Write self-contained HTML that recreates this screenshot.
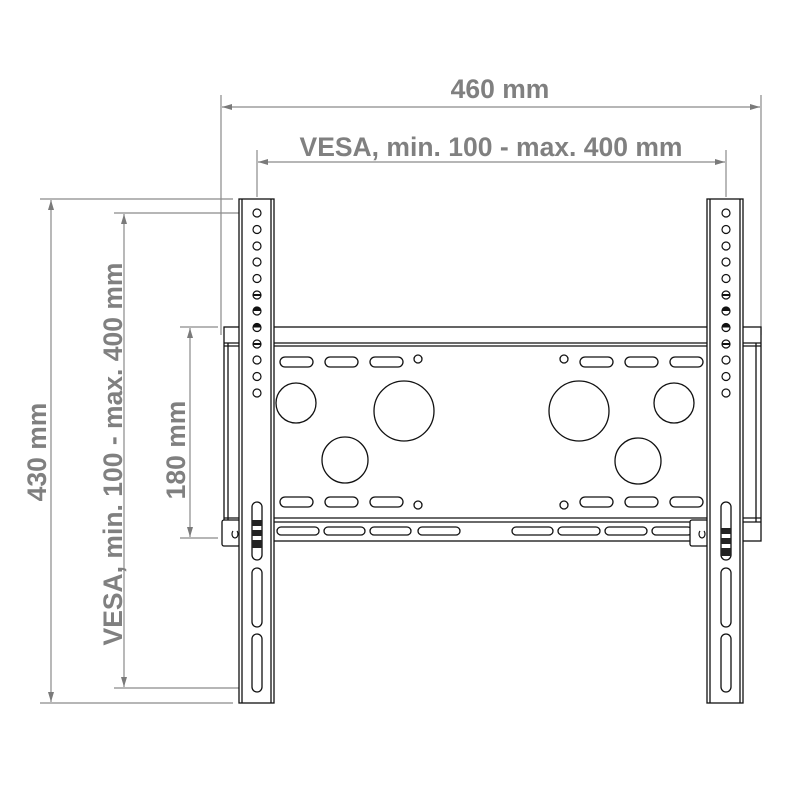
<!DOCTYPE html>
<html><head><meta charset="utf-8"><style>html,body{margin:0;padding:0;background:#fff}svg{display:block}</style></head>
<body>
<svg width="800" height="800" viewBox="0 0 800 800" xmlns="http://www.w3.org/2000/svg">
<defs>
<marker id="a" viewBox="0 0 10 6" refX="10" refY="3" markerWidth="10" markerHeight="6" markerUnits="userSpaceOnUse" orient="auto-start-reverse"><path d="M0,0 L10,3 L0,6 Z" fill="#7a7a7a"/></marker>
</defs>
<g stroke="#8a8a8a" stroke-width="1.2" fill="none">
<line x1="221" y1="95" x2="221" y2="335"/>
<line x1="761" y1="95" x2="761" y2="335"/>
<line x1="257" y1="150" x2="257" y2="197"/>
<line x1="726" y1="150" x2="726" y2="197"/>
<line x1="40" y1="199" x2="233" y2="199"/>
<line x1="114" y1="213" x2="240" y2="213"/>
<line x1="180" y1="327" x2="218" y2="327"/>
<line x1="180" y1="538" x2="218" y2="538"/>
<line x1="114" y1="688" x2="240" y2="688"/>
<line x1="40" y1="703" x2="233" y2="703"/>
<line x1="222" y1="107" x2="760" y2="107" marker-start="url(#a)" marker-end="url(#a)"/>
<line x1="258" y1="162" x2="725" y2="162" marker-start="url(#a)" marker-end="url(#a)"/>
<line x1="51" y1="200" x2="51" y2="702" marker-start="url(#a)" marker-end="url(#a)"/>
<line x1="124" y1="214" x2="124" y2="687" marker-start="url(#a)" marker-end="url(#a)"/>
<line x1="190" y1="328" x2="190" y2="537" marker-start="url(#a)" marker-end="url(#a)"/>
</g>
<g font-family="Liberation Sans, sans-serif" font-weight="bold" font-size="26.5" fill="#808080" text-anchor="middle">
<text x="500" y="98">460 mm</text>
<text x="491" y="156">VESA, min. 100 - max. 400 mm</text>
<text transform="translate(46,452) rotate(-90)">430 mm</text>
<text transform="translate(122,454) rotate(-90)">VESA, min. 100 - max. 400 mm</text>
<text transform="translate(185,450) rotate(-90)">180 mm</text>
</g>
<g stroke="#111" stroke-width="1.3" fill="#fff">
<rect x="224" y="327" width="537" height="214"/>
<line x1="224" y1="343" x2="761" y2="343"/>
<line x1="224" y1="346" x2="761" y2="346"/>
<line x1="224" y1="518" x2="761" y2="518"/>
<line x1="224" y1="522" x2="761" y2="522"/>
<line x1="228" y1="343" x2="228" y2="522"/>
<line x1="756" y1="343" x2="756" y2="522"/>
<circle cx="404" cy="411" r="30"/><circle cx="296" cy="403" r="20"/><circle cx="345" cy="460" r="23"/>
<circle cx="579" cy="411" r="30"/><circle cx="674" cy="403" r="20"/><circle cx="638" cy="461" r="23"/>
<circle cx="418" cy="359" r="4"/><circle cx="418" cy="505" r="4"/><circle cx="564" cy="359" r="4"/><circle cx="564" cy="505" r="4"/>
<rect x="280" y="357" width="33" height="10" rx="5"/><rect x="325" y="357" width="33" height="10" rx="5"/><rect x="370" y="357" width="33" height="10" rx="5"/>
<rect x="580" y="357" width="33" height="10" rx="5"/><rect x="625" y="357" width="33" height="10" rx="5"/><rect x="670" y="357" width="33" height="10" rx="5"/>
<rect x="280" y="497" width="33" height="10" rx="5"/><rect x="325" y="497" width="33" height="10" rx="5"/><rect x="370" y="497" width="33" height="10" rx="5"/>
<rect x="580" y="497" width="33" height="10" rx="5"/><rect x="625" y="497" width="33" height="10" rx="5"/><rect x="670" y="497" width="33" height="10" rx="5"/>
<rect x="277" y="527" width="42" height="8" rx="4"/><rect x="324" y="527" width="41" height="8" rx="4"/><rect x="370" y="527" width="41" height="8" rx="4"/><rect x="418" y="527" width="42" height="8" rx="4"/>
<rect x="512" y="527" width="41" height="8" rx="4"/><rect x="558" y="527" width="42" height="8" rx="4"/><rect x="605" y="527" width="42" height="8" rx="4"/><rect x="652" y="527" width="40" height="8" rx="4"/>
<rect x="222" y="520" width="18" height="26" rx="2"/><rect x="690" y="520" width="18" height="26" rx="2"/>
<rect x="239" y="199" width="35" height="504"/>
<line x1="242" y1="199" x2="242" y2="703"/><line x1="271" y1="199" x2="271" y2="703"/>
<rect x="707" y="199" width="36" height="504"/>
<line x1="710" y1="199" x2="710" y2="703"/><line x1="740" y1="199" x2="740" y2="703"/>
<rect x="252" y="502" width="10" height="58" rx="5"/><rect x="252" y="568" width="10" height="59" rx="5"/><rect x="252" y="634" width="10" height="58" rx="5"/>
<rect x="721" y="502" width="10" height="58" rx="5"/><rect x="721" y="568" width="10" height="59" rx="5"/><rect x="721" y="634" width="10" height="58" rx="5"/>
</g>
<g fill="#222">
<rect x="252" y="520" width="10" height="6"/><rect x="252" y="530" width="10" height="6"/><rect x="252" y="540" width="10" height="8"/>
<rect x="721" y="528" width="10" height="6"/><rect x="721" y="538" width="10" height="6"/><rect x="721" y="548" width="10" height="8"/>
</g>
<g stroke="#111" stroke-width="1.2" fill="none">
<path d="M233,531 a3,4 0 1 0 4,0"/><path d="M700,531 a3,4 0 1 0 4,0"/>
</g>
<g stroke="#111" stroke-width="1.2" fill="#fff">
<circle cx="257" cy="213" r="4"/><circle cx="257" cy="229.5" r="4"/><circle cx="257" cy="246" r="4"/><circle cx="257" cy="262" r="4"/><circle cx="257" cy="278.5" r="4"/><circle cx="257" cy="295" r="4"/><circle cx="257" cy="311" r="4"/><circle cx="257" cy="327.5" r="4"/><circle cx="257" cy="344" r="4"/><circle cx="257" cy="360" r="4"/><circle cx="257" cy="376.5" r="4"/><circle cx="257" cy="393" r="4"/>
<circle cx="726" cy="213" r="4"/><circle cx="726" cy="229.5" r="4"/><circle cx="726" cy="246" r="4"/><circle cx="726" cy="262" r="4"/><circle cx="726" cy="278.5" r="4"/><circle cx="726" cy="295" r="4"/><circle cx="726" cy="311" r="4"/><circle cx="726" cy="327.5" r="4"/><circle cx="726" cy="344" r="4"/><circle cx="726" cy="360" r="4"/><circle cx="726" cy="376.5" r="4"/><circle cx="726" cy="393" r="4"/>
</g>
<g fill="#111">
<path d="M253,311 a4,4 0 0 1 8,0 Z"/><path d="M253,327.5 a4,4 0 0 1 8,0 Z"/>
<path d="M722,311 a4,4 0 0 1 8,0 Z"/><path d="M722,327.5 a4,4 0 0 1 8,0 Z"/>
<rect x="253" y="294" width="8" height="2"/><rect x="253" y="343" width="8" height="2"/>
<rect x="722" y="294" width="8" height="2"/><rect x="722" y="343" width="8" height="2"/>
</g>
</svg>
</body></html>
